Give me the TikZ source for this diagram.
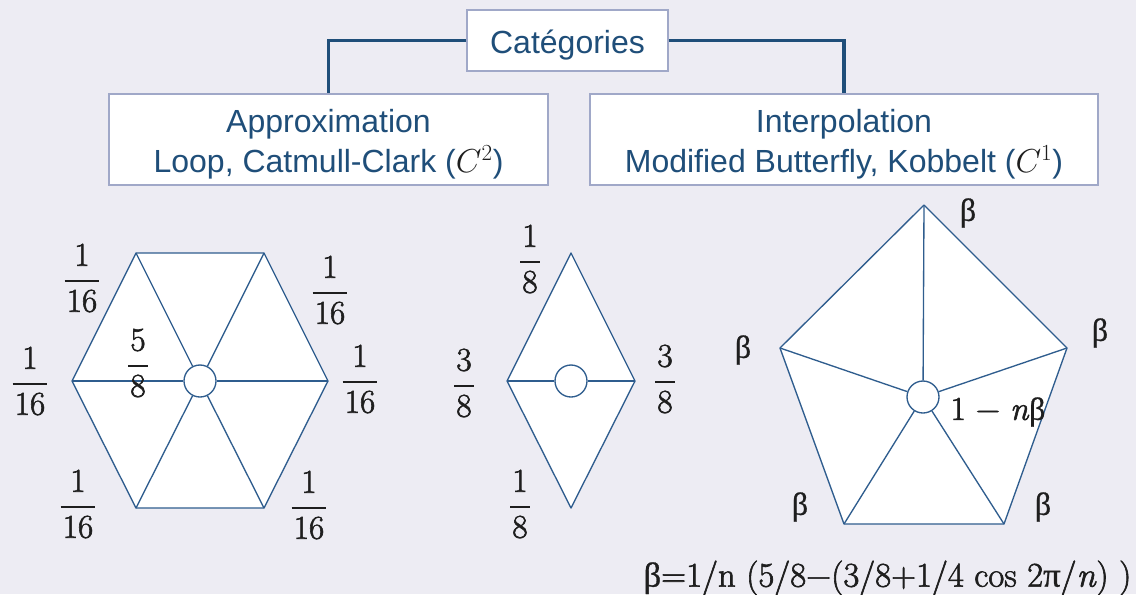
\documentclass[tikz,border=0pt]{standalone}
\usepackage{amsmath}
\usepackage{array}
\usepackage{fontspec}
\setmainfont{Liberation Sans}
\newfontfamily\grk[FakeBold=0.8]{Liberation Serif}
\newfontfamily\lmr[FakeBold=1.8]{Latin Modern Roman}
\definecolor{bg}{RGB}{237,236,243}
\definecolor{boxborder}{RGB}{160,168,200}
\definecolor{txtblue}{RGB}{31,78,121}
\definecolor{linkblue}{RGB}{31,78,121}
\definecolor{meshblue}{RGB}{47,93,142}
\definecolor{ink}{RGB}{30,30,30}
\newcommand\fr[2]{{\lmr\setlength{\arrayrulewidth}{1.5pt}\renewcommand\arraystretch{0}%
  \begin{tabular}{@{\hspace{1.5pt}}c@{\hspace{1.5pt}}}%
  #1\rule[-10.5pt]{0pt}{20pt}\\\hline
  \rule{0pt}{22.5pt}#2\end{tabular}}}
\newcommand\lowr[1]{\raisebox{-3.75pt}[\height][\depth]{#1}}
\begin{document}
\begin{tikzpicture}[x=0.75pt,y=-0.75pt,
  catbox/.style={draw=boxborder, line width=1.1pt, fill=white, text=txtblue,
    font=\fontsize{24}{30}\selectfont, align=center, inner sep=0},
  link/.style={draw=linkblue, line width=2.3pt},
  mesh/.style={draw=meshblue, line width=1pt, fill=white, line join=round},
  spoke/.style={draw=meshblue, line width=1pt},
  hub/.style={circle, draw=meshblue, line width=1pt, fill=white, minimum size=24pt, inner sep=0},
  frc/.style={inner sep=0, text=ink, font=\fontsize{25}{30}\selectfont},
  blab/.style={inner sep=0, text=ink, font=\grk\fontsize{24}{28}\selectfont}]
\fill[bg] (0,0) rectangle (1136,594);
\useasboundingbox (0,0) rectangle (1136,594);

% boxes
\node[catbox, minimum width=201*0.75pt, minimum height=61*0.75pt] (cat) at (567.5,40.5) {\lowr{Catégories}};
\node[catbox, minimum width=439*0.75pt, minimum height=91*0.75pt] (appr) at (328.5,139.5)
  {\lowr{\begin{tabular}{@{}c@{}}Approximation\\Loop, Catmull-Clark ({\color{ink}$C^2$})\end{tabular}}};
\node[catbox, minimum width=508*0.75pt, minimum height=91*0.75pt] (interp) at (844,139.5)
  {\lowr{\begin{tabular}{@{}c@{}}Interpolation\\Modified Butterfly, Kobbelt ({\color{ink}$C^1$})\end{tabular}}};
\draw[link] (cat.west) -| (appr.north);
\draw[link] (cat.east) -| (interp.north);

% hexagon
\coordinate (h1) at (136,253);
\coordinate (h2) at (264,253);
\coordinate (h3) at (328,381);
\coordinate (h4) at (264,508);
\coordinate (h5) at (136,508);
\coordinate (h6) at (72,381);
\draw[mesh] (h1) -- (h2) -- (h3) -- (h4) -- (h5) -- (h6) -- cycle;
\node[hub] (hc) at (200,381) {};
\foreach \v in {h1,h2,h3,h4,h5,h6} \draw[spoke] (\v) -- (hc);
\node[frc] (f1) at (82,278) {\fr{1}{16}};
\node[frc] (f2) at (330,290) {\fr{1}{16}};
\node[frc] (f3) at (30,381) {\fr{1}{16}};
\node[frc] (f4) at (360,379) {\fr{1}{16}};
\node[frc] (f5) at (78,504) {\fr{1}{16}};
\node[frc] (f6) at (309,505) {\fr{1}{16}};
\node[frc] (f7) at (138,363) {\fr{5}{8}};

% diamond
\coordinate (d1) at (571,253);
\coordinate (d2) at (635,381);
\coordinate (d3) at (571,508);
\coordinate (d4) at (507,381);
\draw[mesh] (d1) -- (d2) -- (d3) -- (d4) -- cycle;
\node[hub] (dc) at (571,381) {};
\draw[spoke] (d4) -- (dc);
\draw[spoke] (d2) -- (dc);
\node[frc] (g1) at (530,259) {\fr{1}{8}};
\node[frc] (g2) at (464,383) {\fr{3}{8}};
\node[frc] (g3) at (665,379) {\fr{3}{8}};
\node[frc] (g4) at (520,504) {\fr{1}{8}};

% pentagon
\coordinate (p1) at (924,205);
\coordinate (p2) at (1067,348);
\coordinate (p3) at (1004,524);
\coordinate (p4) at (844,524);
\coordinate (p5) at (780,348);
\draw[mesh] (p1) -- (p2) -- (p3) -- (p4) -- (p5) -- cycle;
\node[hub] (pc) at (923,397) {};
\foreach \v in {p1,p2,p3,p4,p5} \draw[spoke] (\v) -- (pc);
\node[blab] (b1) at (968,213) {β};
\node[blab] (b2) at (1100,333) {β};
\node[blab] (b3) at (1043,507) {β};
\node[blab] (b4) at (800,507) {β};
\node[blab] (b5) at (743,350) {β};
\node[blab] (nb) at (998,412) {{\lmr\fontsize{25}{30}\selectfont 1 − \textit{n}}β};

% formula
\node[inner sep=0, text=ink, font=\lmr\fontsize{26}{30}\selectfont] (form) at (887.5,578)
  {{\grk β}=1/n (5/8−(3/8+1/4 cos 2{\grk π}/\textit{n}) )};
\end{tikzpicture}
\end{document}
